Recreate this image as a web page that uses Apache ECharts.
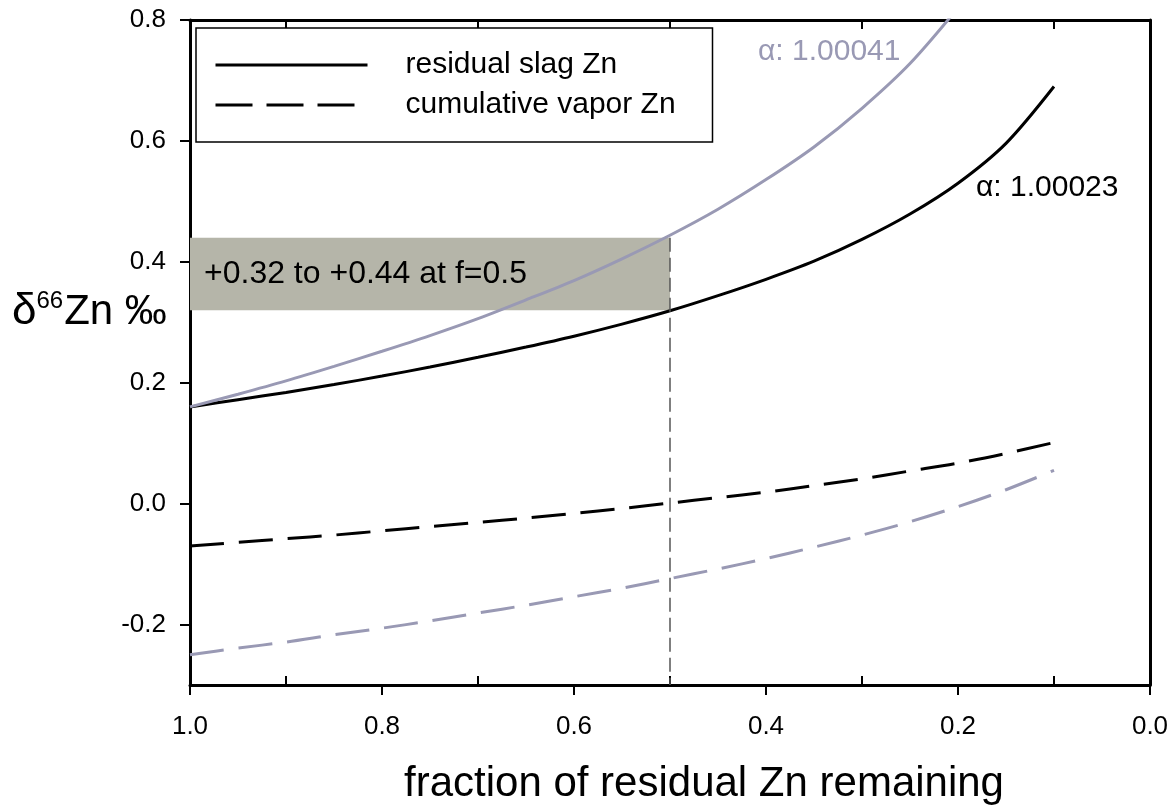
<!DOCTYPE html>
<html>
<head>
<meta charset="utf-8">
<script src="https://cdn.jsdelivr.net/npm/echarts@6/dist/echarts.min.js"></script>
<style>
html,body{margin:0;padding:0;background:#fff;}
#chart{width:1175px;height:810px;}
</style>
</head>
<body>
<div id="chart"></div>
<script>
// fraction of residual Zn remaining
var fraction = [1.0, 0.95, 0.9, 0.85, 0.8, 0.75, 0.7, 0.65, 0.6, 0.55, 0.5, 0.45, 0.4, 0.35, 0.3, 0.25, 0.2, 0.15, 0.1];
// alpha 1.00023 (black)
var slagA = [0.160, 0.172, 0.184, 0.197, 0.211, 0.226, 0.242, 0.259, 0.277, 0.297, 0.319, 0.344, 0.371, 0.401, 0.437, 0.479, 0.530, 0.596, 0.690];
var vaporA = [-0.070, -0.064, -0.058, -0.052, -0.045, -0.038, -0.031, -0.024, -0.016, -0.008, 0.001, 0.010, 0.019, 0.030, 0.041, 0.054, 0.067, 0.083, 0.101];
// alpha 1.00041 (grey)
var fractionB = [1.0, 0.95, 0.9, 0.85, 0.8, 0.75, 0.7, 0.65, 0.6, 0.55, 0.5, 0.45, 0.4, 0.35, 0.3, 0.25, 0.2];
var slagB = [0.160, 0.181, 0.203, 0.227, 0.252, 0.278, 0.306, 0.337, 0.369, 0.405, 0.444, 0.487, 0.536, 0.590, 0.654, 0.728, 0.820];
var vaporB = [-0.250, -0.239, -0.229, -0.217, -0.206, -0.194, -0.181, -0.168, -0.154, -0.140, -0.124, -0.108, -0.091, -0.072, -0.052, -0.030, -0.005, 0.023, 0.055];

var xMajorTicks = [1.0, 0.8, 0.6, 0.4, 0.2, 0.0];
var xMinorTicks = [0.9, 0.7, 0.5, 0.3, 0.1];
var yTicks = [-0.2, 0.0, 0.2, 0.4, 0.6, 0.8];

var rangeF = 0.5, rangeLow = 0.32, rangeHigh = 0.44;
var rangeLabel = '+0.32 to +0.44 at f=0.5';

var FONT = "'Liberation Sans', Arial, sans-serif";
var GREY = '#9999b4';

function pairs(xs, ys) { return xs.map(function (x, i) { return [x, ys[i]]; }); }

var chart = echarts.init(document.getElementById('chart'));

var xBase = {
  type: 'value', min: 0, max: 1, inverse: true, gridIndex: 0,
  splitLine: { show: false }
};

var tickLabelStyle = {
  fontSize: 26, color: '#000', fontFamily: FONT,
  rich: { t: { fontSize: 26, color: '#000', fontFamily: FONT } }
};

var option = {
  backgroundColor: '#fff',
  animation: false,
  textStyle: { fontFamily: FONT },
  grid: { left: 190, right: 25, top: 20, bottom: 121, containLabel: false },
  xAxis: [
    Object.assign({}, xBase, {
      position: 'bottom',
      interval: 0.2,
      axisLine: { onZero: false, lineStyle: { color: '#000', width: 3 } },
      axisTick: { show: true, length: 10, customValues: xMajorTicks, lineStyle: { color: '#000', width: 2 } },
      axisLabel: Object.assign({ customValues: xMajorTicks, formatter: function (v) { return '{t|' + v.toFixed(1) + '}'; }, margin: 29 }, tickLabelStyle),
      name: 'fraction of residual Zn remaining',
      nameLocation: 'middle',
      nameGap: 78,
      nameTextStyle: { fontSize: 42, color: '#000', fontFamily: FONT, padding: [0, 0, 0, 68] }
    }),
    Object.assign({}, xBase, {
      position: 'bottom',
      axisLine: { show: false, onZero: false },
      axisTick: { show: true, inside: true, length: 9, customValues: xMinorTicks, lineStyle: { color: '#000', width: 2 } },
      axisLabel: { show: false }
    }),
    Object.assign({}, xBase, {
      position: 'top',
      axisLine: { show: true, onZero: false, lineStyle: { color: '#000', width: 3 } },
      axisTick: { show: true, inside: true, length: 9, customValues: xMinorTicks, lineStyle: { color: '#000', width: 2 } },
      axisLabel: { show: false }
    })
  ],
  yAxis: [
    {
      type: 'value', min: -0.3, max: 0.8, position: 'left',
      splitLine: { show: false },
      axisLine: { show: true, onZero: false, lineStyle: { color: '#000', width: 3 } },
      axisTick: { show: true, length: 10, customValues: yTicks, lineStyle: { color: '#000', width: 2 } },
      axisLabel: Object.assign({ customValues: yTicks, formatter: function (v) { return '{t|' + v.toFixed(1) + '}'; }, margin: 24 }, tickLabelStyle)
    },
    {
      type: 'value', min: -0.3, max: 0.8, position: 'right',
      splitLine: { show: false },
      axisLine: { show: true, onZero: false, lineStyle: { color: '#000', width: 3 } },
      axisTick: { show: false },
      axisLabel: { show: false }
    }
  ],
  legend: {
    data: [
      { name: 'residual slag Zn' },
      { name: 'cumulative vapor Zn', lineStyle: { type: [37, 14] } }
    ],
    orient: 'vertical',
    left: 196, top: 28,
    padding: [22, 7, 22, 18],
    itemGap: 10,
    itemWidth: 152,
    itemHeight: 14,
    borderColor: '#000',
    borderWidth: 1.5,
    backgroundColor: '#fff',
    selectedMode: false,
    itemStyle: { opacity: 0, color: 'rgba(0,0,0,0)', borderWidth: 0 },
    lineStyle: { width: 3 },
    textStyle: { fontSize: 30, color: '#000', fontFamily: FONT, lineHeight: 30, width: 300, padding: [0, 0, 0, 33] }
  },
  series: [
    {
      name: 'residual slag Zn', type: 'line', xAxisIndex: 0, yAxisIndex: 0,
      data: pairs(fraction, slagA), symbol: 'none', smooth: 0.3,
      lineStyle: { color: '#000', width: 3 },
      itemStyle: { color: '#000' },
      markArea: {
        silent: true,
        itemStyle: { color: '#b5b5a9' },
        label: { show: true, position: 'insideLeft', distance: 14, fontSize: 32, color: '#000', fontFamily: FONT },
        data: [[{ name: rangeLabel, coord: [1.0, rangeLow] }, { coord: [rangeF, rangeHigh] }]]
      },
      markLine: {
        silent: true, symbol: 'none',
        lineStyle: { color: '#555', width: 1.5, type: [14, 6] },
        label: { show: false },
        data: [[{ coord: [rangeF, rangeHigh] }, { coord: [rangeF, -0.3] }]]
      }
    },
    {
      name: 'cumulative vapor Zn', type: 'line', xAxisIndex: 0, yAxisIndex: 0,
      data: pairs(fraction, vaporA), symbol: 'none', smooth: 0.3,
      lineStyle: { color: '#000', width: 3, type: [34, 15] },
      itemStyle: { color: '#000' }
    },
    {
      name: 'residual slag Zn (α 1.00041)', type: 'line', xAxisIndex: 0, yAxisIndex: 0,
      data: pairs(fractionB, slagB), symbol: 'none', clip: true, smooth: 0.3,
      lineStyle: { color: GREY, width: 3 },
      itemStyle: { color: GREY }
    },
    {
      name: 'cumulative vapor Zn (α 1.00041)', type: 'line', xAxisIndex: 0, yAxisIndex: 0,
      data: pairs(fraction, vaporB), symbol: 'none', smooth: 0.3,
      lineStyle: { color: GREY, width: 3, type: [34, 15] },
      itemStyle: { color: GREY }
    }
  ],
  graphic: [
    {
      type: 'text', left: 12, top: 289,
      style: {
        text: '{d|δ}{s|66}{z|Zn ‰}',
        fill: '#000',
        rich: {
          d: { fontSize: 44, fontFamily: FONT, fill: '#000', lineHeight: 46 },
          s: { fontSize: 24, fontFamily: FONT, fill: '#000', verticalAlign: 'top', lineHeight: 22, padding: [0, 1, 0, 0] },
          z: { fontSize: 42, fontFamily: FONT, fill: '#000', lineHeight: 46 }
        }
      }
    },
    {
      type: 'text', left: 758, top: 37,
      style: { text: 'α: 1.00041', fontSize: 30, fontFamily: FONT, fill: GREY }
    },
    {
      type: 'text', left: 976, top: 173,
      style: { text: 'α: 1.00023', fontSize: 30, fontFamily: FONT, fill: '#000' }
    }
  ]
};

chart.setOption(option);
</script>
</body>
</html>
